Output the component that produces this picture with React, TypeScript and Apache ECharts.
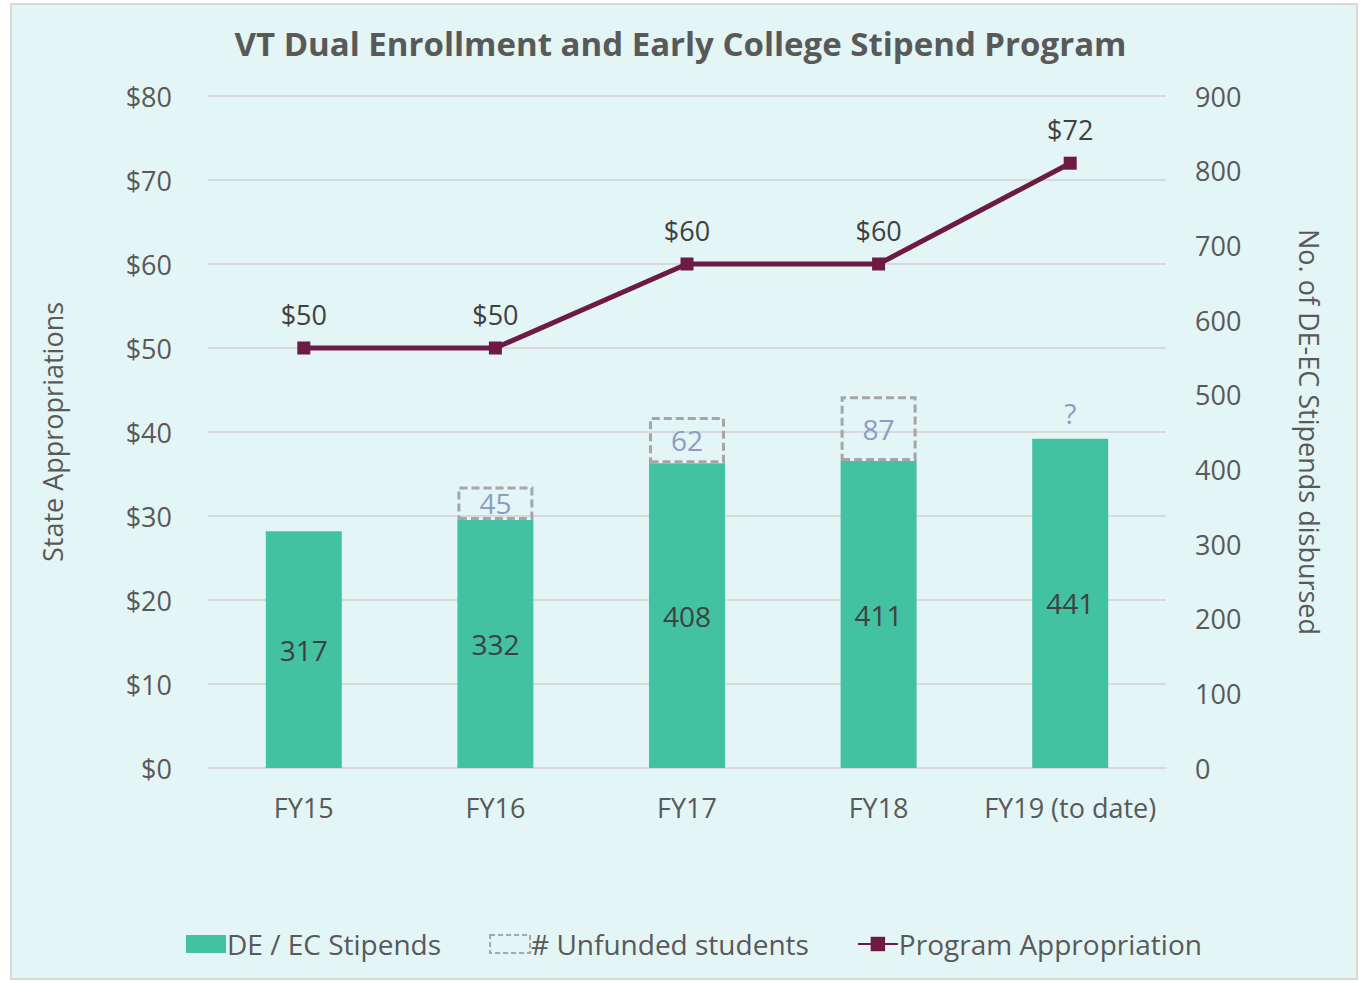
import React, { useEffect, useRef } from "react";
import * as echarts from "echarts";

const categories = ["FY15", "FY16", "FY17", "FY18", "FY19 (to date)"];
const stipends = [317, 332, 408, 411, 441];
const unfunded: (number | null)[] = [null, 45, 62, 87, 0];
const unfundedLabels = ["", "45", "62", "87", "?"];
const appropriation = [50, 50, 60, 60, 72];

const FONT = "'Open Sans', 'Noto Sans', sans-serif";
const TEAL = "#43c2a2";
const MAROON = "#6d1a44";
const GRAY_TEXT = "#595959";
const FS = 27;

export default function App() {
  const ref = useRef<HTMLDivElement>(null);
  useEffect(() => {
    if (!ref.current) return;
    const chart = echarts.init(ref.current, undefined, { renderer: "svg" });
    chart.setOption({
      animation: false,
      textStyle: { fontFamily: FONT },
      graphic: [
        {
          type: "rect",
          z: -10,
          silent: true,
          shape: { x: 11, y: 4, width: 1346, height: 975 },
          style: { fill: "#e3f5f5", stroke: "#d9d9d9", lineWidth: 2 },
        },
      ],
      title: {
        text: "VT Dual Enrollment and Early College Stipend Program",
        left: "center",
        top: 22,
        textStyle: { fontFamily: FONT, fontSize: 33, fontWeight: "bold", color: GRAY_TEXT },
      },
      legend: {
        bottom: 18,
        left: 181,
        itemWidth: 40,
        itemHeight: 18,
        itemGap: 48,
        textStyle: { fontFamily: FONT, fontSize: 28, color: GRAY_TEXT, padding: [0, 0, 0, -4] },
        data: [
          { name: "DE / EC Stipends", icon: "rect" },
          {
            name: "# Unfunded students",
            icon: "rect",
            itemStyle: {
              color: "transparent",
              borderColor: "#a6a6a6",
              borderWidth: 2,
              borderType: [5, 3],
            },
          },
          { name: "Program Appropriation" },
        ],
      },
      grid: { left: 208, right: 195, top: 96, bottom: 213 },
      xAxis: {
        type: "category",
        data: categories,
        axisLine: { lineStyle: { color: "#d9d9d9", width: 2 } },
        axisTick: { show: false },
        axisLabel: { fontFamily: FONT, fontSize: FS, color: GRAY_TEXT, margin: 26, interval: 0 },
      },
      yAxis: [
        {
          type: "value",
          min: 0,
          max: 80,
          interval: 10,
          name: "State Appropriations",
          nameLocation: "middle",
          nameGap: 142,
          nameTextStyle: { fontFamily: FONT, fontSize: FS, color: GRAY_TEXT },
          axisLabel: {
            fontFamily: FONT,
            fontSize: FS,
            color: GRAY_TEXT,
            margin: 36,
            formatter: (v: number) => "$" + v,
          },
          splitLine: { lineStyle: { color: "#d9d9d9", width: 2 } },
          axisLine: { show: false },
          axisTick: { show: false },
        },
        {
          type: "value",
          min: 0,
          max: 900,
          interval: 100,
          name: "No. of DE-EC Stipends disbursed",
          nameLocation: "middle",
          nameRotate: -90,
          nameGap: 130,
          nameTextStyle: { fontFamily: FONT, fontSize: FS, color: GRAY_TEXT },
          axisLabel: { fontFamily: FONT, fontSize: FS, color: GRAY_TEXT, margin: 29 },
          splitLine: { show: false },
          axisLine: { show: false },
          axisTick: { show: false },
        },
      ],
      series: [
        {
          name: "DE / EC Stipends",
          type: "bar",
          yAxisIndex: 1,
          stack: "students",
          barWidth: 76,
          data: stipends,
          itemStyle: { color: TEAL },
          label: {
            show: true,
            position: "inside",
            fontFamily: FONT,
            fontSize: 28,
            color: "#404040",
          },
        },
        {
          name: "# Unfunded students",
          type: "bar",
          yAxisIndex: 1,
          stack: "students",
          barWidth: 76,
          data: unfunded.map((v) =>
            v === 0
              ? {
                  value: v,
                  itemStyle: { borderWidth: 0, borderColor: "transparent" },
                  label: { position: "top", distance: 12 },
                }
              : v
          ),
          itemStyle: {
            color: "transparent",
            borderColor: "#a6a6a6",
            borderWidth: 3,
            borderType: [8, 4],
          },
          label: {
            show: true,
            position: "inside",
            fontFamily: FONT,
            fontSize: 28,
            color: "#8d9cc2",
            formatter: (p: any) => unfundedLabels[p.dataIndex],
          },
        },
        {
          name: "Program Appropriation",
          type: "line",
          yAxisIndex: 0,
          data: appropriation,
          symbol: "rect",
          symbolSize: 13,
          lineStyle: { color: MAROON, width: 5 },
          itemStyle: { color: MAROON },
          label: {
            show: true,
            position: "top",
            distance: 14,
            fontFamily: FONT,
            fontSize: 27,
            color: "#404040",
            formatter: (p: any) => "$" + p.value,
          },
        },
      ],
    });
    return () => chart.dispose();
  }, []);
  return (
    <div
      ref={ref}
      style={{ position: "fixed", left: 0, top: 0, width: 1361, height: 981, background: "#ffffff" }}
    />
  );
}
